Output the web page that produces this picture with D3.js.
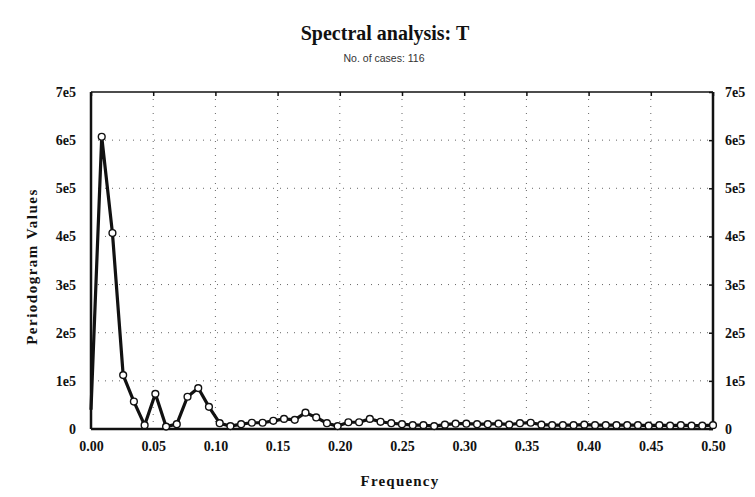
<!DOCTYPE html>
<html>
<head>
<meta charset="utf-8">
<script src="https://cdn.jsdelivr.net/npm/d3@7"></script>
<style>
  html, body { margin: 0; padding: 0; background: #ffffff; }
  svg { display: block; }
</style>
</head>
<body>
<div id="chart"></div>
<script>
// ---- Data ----
const nCases = 116;
const periodogram = [
  40000, 607000, 407000, 112000, 57000, 8000, 73000, 5000, 10000, 67000,
  85000, 46000, 12000, 6000, 10000, 13000, 13000, 17000, 21000, 19000,
  34000, 24000, 12000, 6000, 14000, 14000, 21000, 15000, 12000, 10000,
  8000, 8000, 6000, 9000, 11000, 11000, 10000, 10000, 11000, 9000,
  12000, 13000, 9000, 8000, 8000, 8000, 9000, 8000, 8000, 8000,
  8000, 8000, 7000, 8000, 7000, 8000, 7000, 7000, 8000
];
const xTickValues = [0, 0.05, 0.10, 0.15, 0.20, 0.25, 0.30, 0.35, 0.40, 0.45, 0.50];
const xTickLabels = ["0.00","0.05","0.10","0.15","0.20","0.25","0.30","0.35","0.40","0.45","0.50"];
const yTickValues = [0, 100000, 200000, 300000, 400000, 500000, 600000, 700000];
const yTickLabels = ["0","1e5","2e5","3e5","4e5","5e5","6e5","7e5"];
const titleText = "Spectral analysis: T";
const subtitleText = "No. of cases: 116";
const xTitle = "Frequency";
const yTitle = "Periodogram Values";

const points = periodogram.map((v, k) => ({ f: k / nCases, v }));

// ---- Layout ----
const W = 755, H = 497;
const m = { left: 91, right: 42, top: 92, bottom: 68 };
const pw = W - m.left - m.right, ph = H - m.top - m.bottom;
const serif = "'Liberation Serif', 'Times New Roman', serif";
const sans = "'Liberation Sans', Arial, sans-serif";

const svg = d3.select("#chart").append("svg").attr("width", W).attr("height", H);
svg.append("rect").attr("width", W).attr("height", H).attr("fill", "#fff");

const x = d3.scaleLinear().domain([0, 0.5]).range([m.left, m.left + pw]);
const y = d3.scaleLinear().domain([0, 700000]).range([m.top + ph, m.top]);

// Titles
svg.append("text").attr("x", 385).attr("y", 40).attr("text-anchor", "middle")
  .attr("font-family", serif).attr("font-weight", "bold").attr("font-size", 20)
  .attr("fill", "#111").text(titleText);
svg.append("text").attr("x", 384).attr("y", 62).attr("text-anchor", "middle")
  .attr("font-family", sans).attr("font-size", 10.5)
  .attr("fill", "#333").text(subtitleText);

// Plot background
svg.append("rect").attr("x", m.left).attr("y", m.top).attr("width", pw).attr("height", ph).attr("fill", "#fff");

// Grid
const grid = svg.append("g").attr("stroke", "#666").attr("stroke-width", 1).attr("stroke-dasharray", "1,6");
grid.selectAll(".gx").data(xTickValues.slice(1, -1)).join("line")
  .attr("x1", d => x(d)).attr("x2", d => x(d)).attr("y1", m.top).attr("y2", m.top + ph);
grid.selectAll(".gy").data(yTickValues.slice(1, -1)).join("line")
  .attr("y1", d => y(d)).attr("y2", d => y(d)).attr("x1", m.left).attr("x2", m.left + pw);

// Axes
const fmtX = (d, i) => xTickLabels[i];
const fmtY = (d, i) => yTickLabels[i];
const xAxis = d3.axisBottom(x).tickValues(xTickValues).tickFormat(fmtX).tickSize(0).tickPadding(12);
const yAxisL = d3.axisLeft(y).tickValues(yTickValues).tickFormat(fmtY).tickSize(0).tickPadding(15);
const yAxisR = d3.axisRight(y).tickValues(yTickValues).tickFormat(fmtY).tickSize(-4).tickPadding(12);
const xAxisT = d3.axisTop(x).tickValues(xTickValues).tickFormat("").tickSize(-4);

function style(g) {
  g.select(".domain").remove();
  g.selectAll("text").attr("font-family", serif).attr("font-weight", "bold")
    .attr("font-size", 14).attr("fill", "#111");
  g.selectAll("line").attr("stroke", "#111").attr("stroke-width", 1.5);
}
svg.append("g").attr("transform", `translate(0,${m.top + ph})`).call(xAxis).call(style);
svg.append("g").attr("transform", `translate(${m.left},0)`).call(yAxisL).call(style);
svg.append("g").attr("transform", `translate(${m.left + pw},0)`).call(yAxisR).call(style);
svg.append("g").attr("transform", `translate(0,${m.top})`).call(xAxisT).call(style);

// Frame
svg.append("line").attr("x1", m.left).attr("x2", m.left + pw).attr("y1", m.top).attr("y2", m.top)
  .attr("stroke", "#111").attr("stroke-width", 1.5);
svg.append("line").attr("x1", m.left).attr("x2", m.left + pw).attr("y1", m.top + ph).attr("y2", m.top + ph)
  .attr("stroke", "#111").attr("stroke-width", 2.5);
svg.append("line").attr("x1", m.left).attr("x2", m.left).attr("y1", m.top).attr("y2", m.top + ph)
  .attr("stroke", "#111").attr("stroke-width", 2.5);
svg.append("line").attr("x1", m.left + pw).attr("x2", m.left + pw).attr("y1", m.top).attr("y2", m.top + ph)
  .attr("stroke", "#111").attr("stroke-width", 2.5);

// Line
const line = d3.line().x(d => x(d.f)).y(d => y(d.v));
svg.append("path").datum(points).attr("d", line).attr("fill", "none")
  .attr("stroke", "#111").attr("stroke-width", 3.2).attr("stroke-linejoin", "round");

// Markers
svg.append("g").selectAll("circle").data(points.filter((d, i) => i > 0)).join("circle")
  .attr("cx", d => x(d.f)).attr("cy", d => y(d.v)).attr("r", 3.4)
  .attr("fill", "#fff").attr("stroke", "#111").attr("stroke-width", 1.4);

// Axis titles
svg.append("text").attr("x", 400).attr("y", 486).attr("text-anchor", "middle")
  .attr("font-family", serif).attr("font-weight", "bold").attr("font-size", 15)
  .attr("letter-spacing", 1.2)
  .attr("fill", "#111").text(xTitle);
svg.append("text").attr("transform", `translate(37,${m.top + ph / 2 + 6}) rotate(-90)`)
  .attr("text-anchor", "middle")
  .attr("font-family", serif).attr("font-weight", "bold").attr("font-size", 15)
  .attr("letter-spacing", 1.5)
  .attr("fill", "#111").text(yTitle);
</script>
</body>
</html>
